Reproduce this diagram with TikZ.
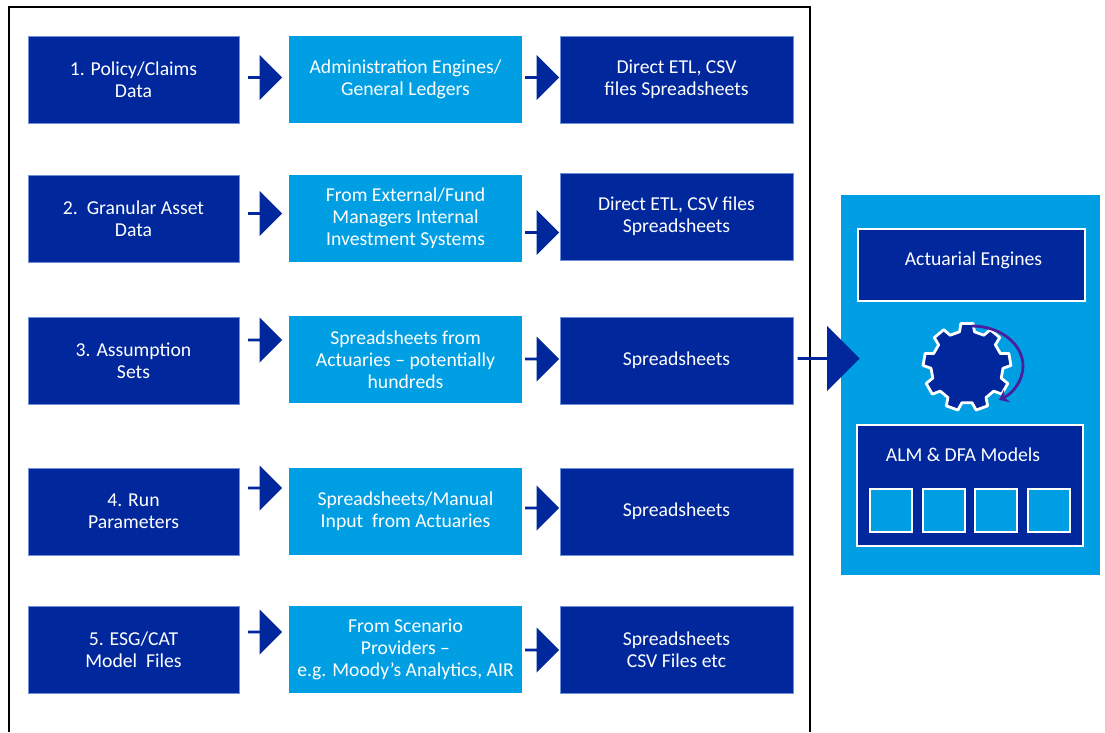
\documentclass[tikz,border=0pt]{standalone}
\usepackage{fontspec}
\setmainfont{Carlito}
\usepackage{xcolor}
\usetikzlibrary{shapes}
\usetikzlibrary{shapes.arrows}
\usetikzlibrary{calc}
\usetikzlibrary{arrows.meta}
\definecolor{darkblue}{HTML}{00289C}
\definecolor{lightblue}{HTML}{009FE3}
\definecolor{edgeblue}{HTML}{6F8FD8}
\definecolor{turnpurple}{HTML}{4A1F9E}
\newcommand{\boxfont}{\fontsize{5.6pt}{6.25pt}\selectfont}
\tikzset{
  flowbox/.style={rectangle, inner sep=0pt, outer sep=0pt, text=white, align=center,
    font=\boxfont, minimum height=0.87cm},
  sourcebox/.style={flowbox, fill=darkblue, draw=edgeblue, line width=0.2pt, minimum width=2.11cm},
  systembox/.style={flowbox, fill=lightblue, minimum width=2.33cm},
  formatbox/.style={flowbox, fill=darkblue, draw=edgeblue, line width=0.2pt, minimum width=2.33cm},
  blockarrow/.style={single arrow, fill=darkblue, inner sep=0pt, outer sep=0pt,
    minimum width=0.45cm, minimum height=0.34cm, single arrow head extend=0.11cm},
  modelbox/.style={rectangle, fill=darkblue, draw=white, line width=0.4pt, inner sep=0pt,
    text=white, font=\boxfont},
  slotbox/.style={rectangle, fill=lightblue, draw=white, line width=0.4pt,
    minimum width=0.42cm, minimum height=0.43cm},
}

\begin{document}
\begin{tikzpicture}
  \useasboundingbox (0, 0) rectangle (11.05, -7.32);

  % outer frame, runs off the bottom
  \draw [line width=0.6pt] (0.09, -7.32) -- (0.09, -0.07) -- (8.10, -0.07) -- (8.10, -7.32);

  % first column
  \node [sourcebox] (policy) at (1.335, -0.795) {1. Policy/Claims\\Data};
  \node [sourcebox] (asset) at (1.335, -2.185) {2.~~Granular Asset\\Data};
  \node [sourcebox] (assume) at (1.335, -3.605) {3. Assumption\\Sets};
  \node [sourcebox] (params) at (1.335, -5.115) {4. Run\\Parameters};
  \node [sourcebox] (esg) at (1.335, -6.495) {5. ESG/CAT\\Model~~Files};

  % second column
  \node [systembox] (engines) at (4.055, -0.795) {Administration Engines/\\General Ledgers};
  \node [systembox] (managers) at (4.055, -2.185) {From External/Fund\\Managers Internal\\Investment Systems};
  \node [systembox] (actuaries) at (4.055, -3.595) {Spreadsheets from\\Actuaries -- potentially\\hundreds};
  \node [systembox] (manual) at (4.055, -5.115) {Spreadsheets/Manual\\Input~~from Actuaries};
  \node [systembox] (providers) at (4.055, -6.495) {From Scenario\\Providers --\\e.g. Moody's Analytics, AIR};

  % third column
  \node [formatbox] (etlA) at (6.765, -0.795) {Direct ETL, CSV\\files Spreadsheets};
  \node [formatbox] (etlB) at (6.765, -2.165) {Direct ETL, CSV files\\Spreadsheets};
  \node [formatbox] (sheetsA) at (6.765, -3.605) {Spreadsheets};
  \node [formatbox] (sheetsB) at (6.765, -5.115) {Spreadsheets};
  \node [formatbox] (sheetsC) at (6.765, -6.495) {Spreadsheets\\CSV Files etc};

  % block arrows
  \node [blockarrow] (policyArrow) at (2.645, -0.775) {};
  \node [blockarrow] (assetArrow) at (2.645, -2.135) {};
  \node [blockarrow] (assumeArrow) at (2.645, -3.40) {};
  \node [blockarrow] (paramsArrow) at (2.645, -4.88) {};
  \node [blockarrow] (esgArrow) at (2.645, -6.32) {};
  \node [blockarrow] (enginesArrow) at (5.415, -0.775) {};
  \node [blockarrow] (managersArrow) at (5.415, -2.325) {};
  \node [blockarrow] (actuariesArrow) at (5.415, -3.59) {};
  \node [blockarrow] (manualArrow) at (5.415, -5.08) {};
  \node [blockarrow] (providersArrow) at (5.415, -6.50) {};

  % right panel
  \node [rectangle, fill=lightblue, inner sep=0pt, minimum width=2.59cm, minimum height=3.80cm]
    (panel) at (9.705, -3.85) {};
  \node [blockarrow, minimum width=0.65cm, minimum height=0.62cm, single arrow head extend=0.16cm]
    (panelArrow) at (8.28, -3.585) {};
  \node [modelbox, minimum width=2.27cm, minimum height=0.72cm] (actuarial) at (9.715, -2.65) {};
  \node [text=white, font=\boxfont, inner sep=0pt] (actuarialText) at (9.735, -2.60) {Actuarial Engines};
  \node [modelbox, minimum width=2.26cm, minimum height=1.21cm] (alm) at (9.70, -4.855) {};
  \node [text=white, font=\boxfont, inner sep=0pt] (almText) at (9.63, -4.55) {ALM \& DFA Models};
  \node [slotbox] (slotA) at (8.91, -5.105) {};
  \node [slotbox] (slotB) at (9.44, -5.105) {};
  \node [slotbox] (slotC) at (9.96, -5.105) {};
  \node [slotbox] (slotD) at (10.49, -5.105) {};

  % gear
  \coordinate (gear) at (9.67, -3.67);
  \draw [fill=darkblue, draw=white, line width=0.8pt, line join=round]
    ($(gear) + (78:0.36)$)
    \foreach \a in {90, 130, ..., 410} {
      -- ($(gear) + (\a-12:0.36)$) -- ($(gear) + (\a-8:0.44)$)
      -- ($(gear) + (\a+8:0.44)$) -- ($(gear) + (\a+12:0.36)$)
    } -- cycle;
  \draw [turnpurple, line width=0.8pt, -{Stealth[length=0.09cm, width=0.14cm]}]
    (9.72, -3.26) arc [start angle=90, end angle=-58, x radius=0.51, y radius=0.40];
\end{tikzpicture}
\end{document}
